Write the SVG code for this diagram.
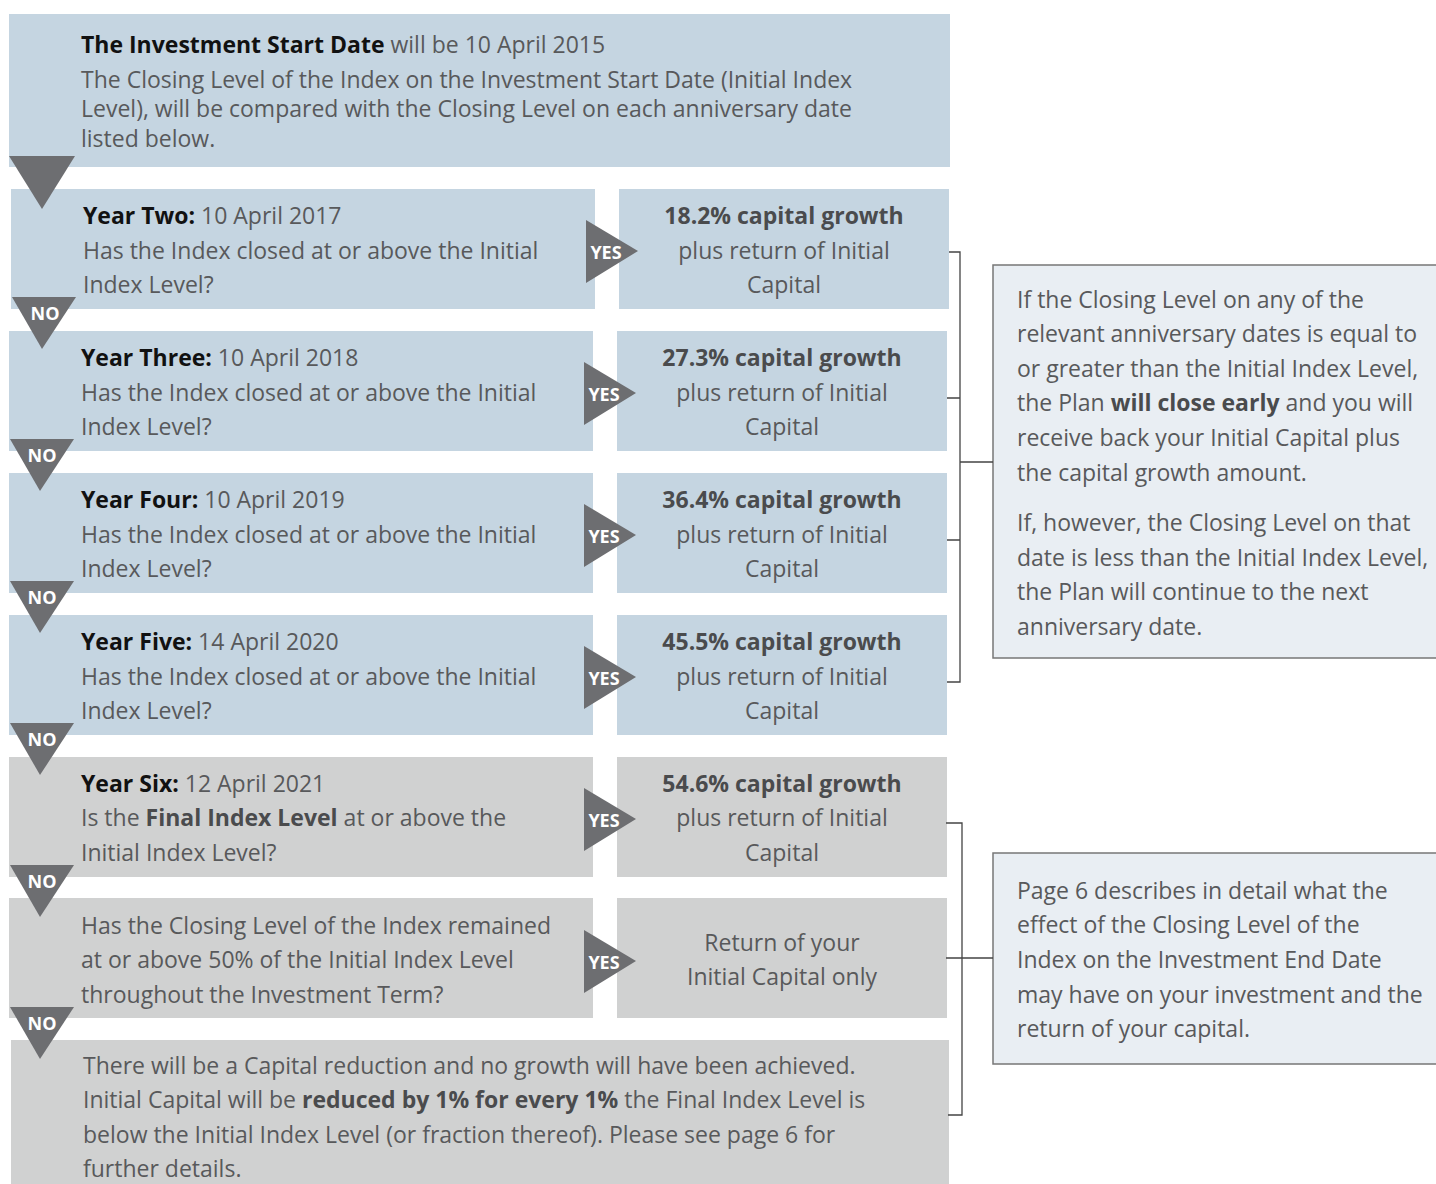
<svg xmlns="http://www.w3.org/2000/svg" width="1436" height="1184" viewBox="0 0 1436 1184">
<style>
.blue{fill:#c5d5e1}
.grey{fill:#d0d1d1}
.tri{fill:#6d6e71}
.t{font-family:"Open Sans","Liberation Sans",sans-serif;font-size:23px;fill:#58595b}
.b{font-weight:bold;fill:#111}
.bg{font-weight:bold;fill:#4a4b4d}
.c{text-anchor:middle}
.lab{font-family:"Open Sans","Liberation Sans",sans-serif;font-size:18px;font-weight:bold;fill:#fff;text-anchor:middle}
.con{stroke:#444;stroke-width:1.3;fill:none}
.note{fill:#e9eef3;stroke:#777;stroke-width:1.5}
</style>
<rect width="1436" height="1184" fill="#fff"/>
<g id="start">
<rect class="blue" x="9" y="14" width="941" height="153"/>
<text class="t" x="81" y="53"><tspan class="b">The Investment Start Date</tspan> will be 10 April 2015</text>
<text class="t" x="81" y="88">The Closing Level of the Index on the Investment Start Date (Initial Index</text>
<text class="t" x="81" y="117">Level), will be compared with the Closing Level on each anniversary date</text>
<text class="t" x="81" y="147">listed below.</text>
</g>
<g id="q1">
<rect class="blue" x="11" y="189" width="584" height="120"/>
<text class="t" x="83" y="224"><tspan class="b">Year Two:</tspan> 10 April 2017</text>
<text class="t" x="83" y="259">Has the Index closed at or above the Initial</text>
<text class="t" x="83" y="293">Index Level?</text>
</g>
<g id="r1">
<rect class="blue" x="619" y="189" width="330" height="120"/>
<text class="t c" x="784" y="224"><tspan class="bg">18.2% capital growth</tspan></text>
<text class="t c" x="784" y="259">plus return of Initial</text>
<text class="t c" x="784" y="293">Capital</text>
</g>
<g id="q2">
<rect class="blue" x="9" y="331" width="584" height="120"/>
<text class="t" x="81" y="366"><tspan class="b">Year Three:</tspan> 10 April 2018</text>
<text class="t" x="81" y="401">Has the Index closed at or above the Initial</text>
<text class="t" x="81" y="435">Index Level?</text>
</g>
<g id="r2">
<rect class="blue" x="617" y="331" width="330" height="120"/>
<text class="t c" x="782" y="366"><tspan class="bg">27.3% capital growth</tspan></text>
<text class="t c" x="782" y="401">plus return of Initial</text>
<text class="t c" x="782" y="435">Capital</text>
</g>
<g id="q3">
<rect class="blue" x="9" y="473" width="584" height="120"/>
<text class="t" x="81" y="508"><tspan class="b">Year Four:</tspan> 10 April 2019</text>
<text class="t" x="81" y="543">Has the Index closed at or above the Initial</text>
<text class="t" x="81" y="577">Index Level?</text>
</g>
<g id="r3">
<rect class="blue" x="617" y="473" width="330" height="120"/>
<text class="t c" x="782" y="508"><tspan class="bg">36.4% capital growth</tspan></text>
<text class="t c" x="782" y="543">plus return of Initial</text>
<text class="t c" x="782" y="577">Capital</text>
</g>
<g id="q4">
<rect class="blue" x="9" y="615" width="584" height="120"/>
<text class="t" x="81" y="650"><tspan class="b">Year Five:</tspan> 14 April 2020</text>
<text class="t" x="81" y="685">Has the Index closed at or above the Initial</text>
<text class="t" x="81" y="719">Index Level?</text>
</g>
<g id="r4">
<rect class="blue" x="617" y="615" width="330" height="120"/>
<text class="t c" x="782" y="650"><tspan class="bg">45.5% capital growth</tspan></text>
<text class="t c" x="782" y="685">plus return of Initial</text>
<text class="t c" x="782" y="719">Capital</text>
</g>
<g id="q5">
<rect class="grey" x="9" y="757" width="584" height="120"/>
<text class="t" x="81" y="792"><tspan class="b">Year Six:</tspan> 12 April 2021</text>
<text class="t" x="81" y="826">Is the <tspan class="bg">Final Index Level</tspan> at or above the</text>
<text class="t" x="81" y="861">Initial Index Level?</text>
</g>
<g id="r5">
<rect class="grey" x="617" y="757" width="330" height="120"/>
<text class="t c" x="782" y="792"><tspan class="bg">54.6% capital growth</tspan></text>
<text class="t c" x="782" y="826">plus return of Initial</text>
<text class="t c" x="782" y="861">Capital</text>
</g>
<g id="q6">
<rect class="grey" x="9" y="898" width="584" height="120"/>
<text class="t" x="81" y="934">Has the Closing Level of the Index remained</text>
<text class="t" x="81" y="968">at or above 50% of the Initial Index Level</text>
<text class="t" x="81" y="1003">throughout the Investment Term?</text>
</g>
<g id="r6">
<rect class="grey" x="617" y="898" width="330" height="120"/>
<text class="t c" x="782" y="951">Return of your</text>
<text class="t c" x="782" y="985">Initial Capital only</text>
</g>
<g id="loss">
<rect class="grey" x="11" y="1040" width="938" height="144"/>
<text class="t" x="83" y="1074">There will be a Capital reduction and no growth will have been achieved.</text>
<text class="t" x="83" y="1108">Initial Capital will be <tspan class="bg">reduced by 1% for every 1%</tspan> the Final Index Level is</text>
<text class="t" x="83" y="1143">below the Initial Index Level (or fraction thereof). Please see page 6 for</text>
<text class="t" x="83" y="1177">further details.</text>
</g>
<g id="note1">
<path class="note" d="M1436,265 H993 V658 H1436"/>
<text class="t" x="1017" y="308">If the Closing Level on any of the</text>
<text class="t" x="1017" y="342">relevant anniversary dates is equal to</text>
<text class="t" x="1017" y="377">or greater than the Initial Index Level,</text>
<text class="t" x="1017" y="411">the Plan <tspan class="bg">will close early</tspan> and you will</text>
<text class="t" x="1017" y="446">receive back your Initial Capital plus</text>
<text class="t" x="1017" y="481">the capital growth amount.</text>
<text class="t" x="1017" y="531">If, however, the Closing Level on that</text>
<text class="t" x="1017" y="566">date is less than the Initial Index Level,</text>
<text class="t" x="1017" y="600">the Plan will continue to the next</text>
<text class="t" x="1017" y="635">anniversary date.</text>
</g>
<g id="note2">
<path class="note" d="M1436,853 H993 V1064 H1436"/>
<text class="t" x="1017" y="899">Page 6 describes in detail what the</text>
<text class="t" x="1017" y="933">effect of the Closing Level of the</text>
<text class="t" x="1017" y="968">Index on the Investment End Date</text>
<text class="t" x="1017" y="1003">may have on your investment and the</text>
<text class="t" x="1017" y="1037">return of your capital.</text>
</g>
<g id="connectors">
<polygon class="tri" points="9,156 75,156 42,209"/>
<polygon class="tri" points="12,297 76,297 42,349"/>
<text class="lab" x="45" y="320">NO</text>
<polygon class="tri" points="10,439 74,439 40,491"/>
<text class="lab" x="42" y="462">NO</text>
<polygon class="tri" points="10,581 74,581 40,633"/>
<text class="lab" x="42" y="604">NO</text>
<polygon class="tri" points="10,723 74,723 40,775"/>
<text class="lab" x="42" y="746">NO</text>
<polygon class="tri" points="10,865 74,865 40,917"/>
<text class="lab" x="42" y="888">NO</text>
<polygon class="tri" points="10,1007 74,1007 40,1059"/>
<text class="lab" x="42" y="1030">NO</text>
<polygon class="tri" points="586,220 586,283 638,251"/>
<text class="lab" x="606" y="259">YES</text>
<polygon class="tri" points="584,362 584,425 636,393"/>
<text class="lab" x="604" y="401">YES</text>
<polygon class="tri" points="584,504 584,567 636,535"/>
<text class="lab" x="604" y="543">YES</text>
<polygon class="tri" points="584,646 584,709 636,677"/>
<text class="lab" x="604" y="685">YES</text>
<polygon class="tri" points="584,788 584,851 636,819"/>
<text class="lab" x="604" y="827">YES</text>
<polygon class="tri" points="584,930 584,993 636,961"/>
<text class="lab" x="604" y="969">YES</text>
<path class="con" d="M949,252 H960 V682 H947 M947,398 H960 M947,540 H960 M960,462 H993"/>
<path class="con" d="M946,823 H962 V1115 H948 M946,958 H993"/>
</g>
</svg>
